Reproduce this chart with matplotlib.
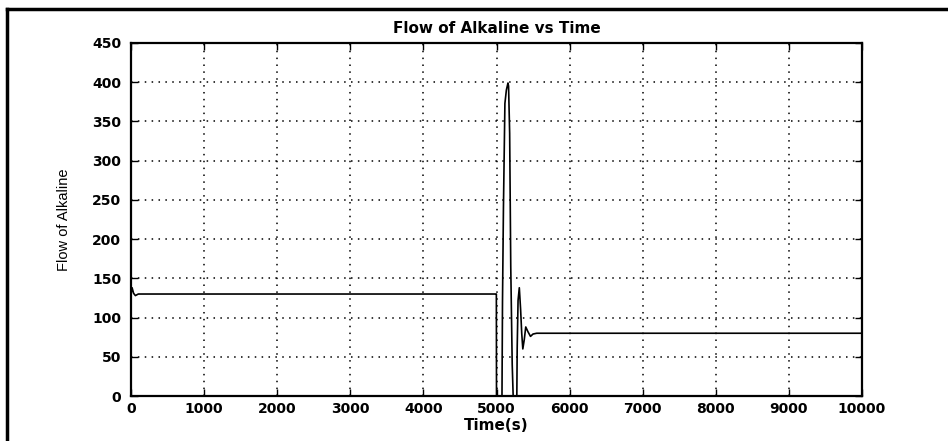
import numpy as np
import matplotlib
matplotlib.use('Agg')
import matplotlib.pyplot as plt
from matplotlib.lines import Line2D

# datos
tiempo = [0, 15, 35, 60, 100, 4990, 4998, 5000, 5075, 5082, 5095, 5115, 5135, 5157,
          5165, 5180, 5195, 5215, 5228, 5278, 5283, 5295, 5312, 5330, 5345, 5360,
          5380, 5400, 5430, 5465, 5500, 5550, 5600, 10000]
flujo = [130, 138, 131, 128, 130, 130, 130, 0, 0, 120, 240, 373, 390, 399,
         395, 335, 165, 40, 0, 0, 61, 122, 138, 110, 80, 60,
         72, 88, 82, 76, 79, 80, 80, 80]

xticks = [0, 1000, 2000, 3000, 4000, 5000, 6000, 7000, 8000, 9000, 10000]
yticks = [0, 50, 100, 150, 200, 250, 300, 350, 400, 450]

fig = plt.figure(figsize=(9.48, 4.41), dpi=100)
ax = fig.add_axes([131/948, 45/441, 731/948, 353/441])

ax.plot(tiempo, flujo, color='black', linewidth=1.2)

ax.set_xlim(0, 10000)
ax.set_ylim(0, 450)
ax.set_xticks(xticks)
ax.set_yticks(yticks)
ax.set_xticklabels([str(v) for v in xticks], fontsize=10, fontweight='bold')
ax.set_yticklabels([str(v) for v in yticks], fontsize=10, fontweight='bold')
ax.tick_params(direction='in', length=5, width=1, top=True, right=True)
ax.tick_params(axis='y', pad=7)
ax.tick_params(axis='x', pad=4)
ax.grid(True, linestyle=(0, (1, 3.5)), color='black', linewidth=1.1)

for s in ax.spines.values():
    s.set_linewidth(1.6)

ax.set_title('Flow of Alkaline vs Time', fontsize=11, fontweight='bold', pad=7)
ax.set_xlabel('Time(s)', fontsize=11, fontweight='bold', labelpad=2)
ax.set_ylabel('Flow of Alkaline', fontsize=10.5, family='Liberation Sans', labelpad=15)

# marco del documento escaneado
fig.add_artist(Line2D([7/948, 7/948], [0, 1 - 9/441], transform=fig.transFigure,
                      color='black', linewidth=2.5))
fig.add_artist(Line2D([7/948, 1], [1 - 9/441, 1 - 9/441], transform=fig.transFigure,
                      color='black', linewidth=2.5))

plt.savefig('out.png', dpi=100)
